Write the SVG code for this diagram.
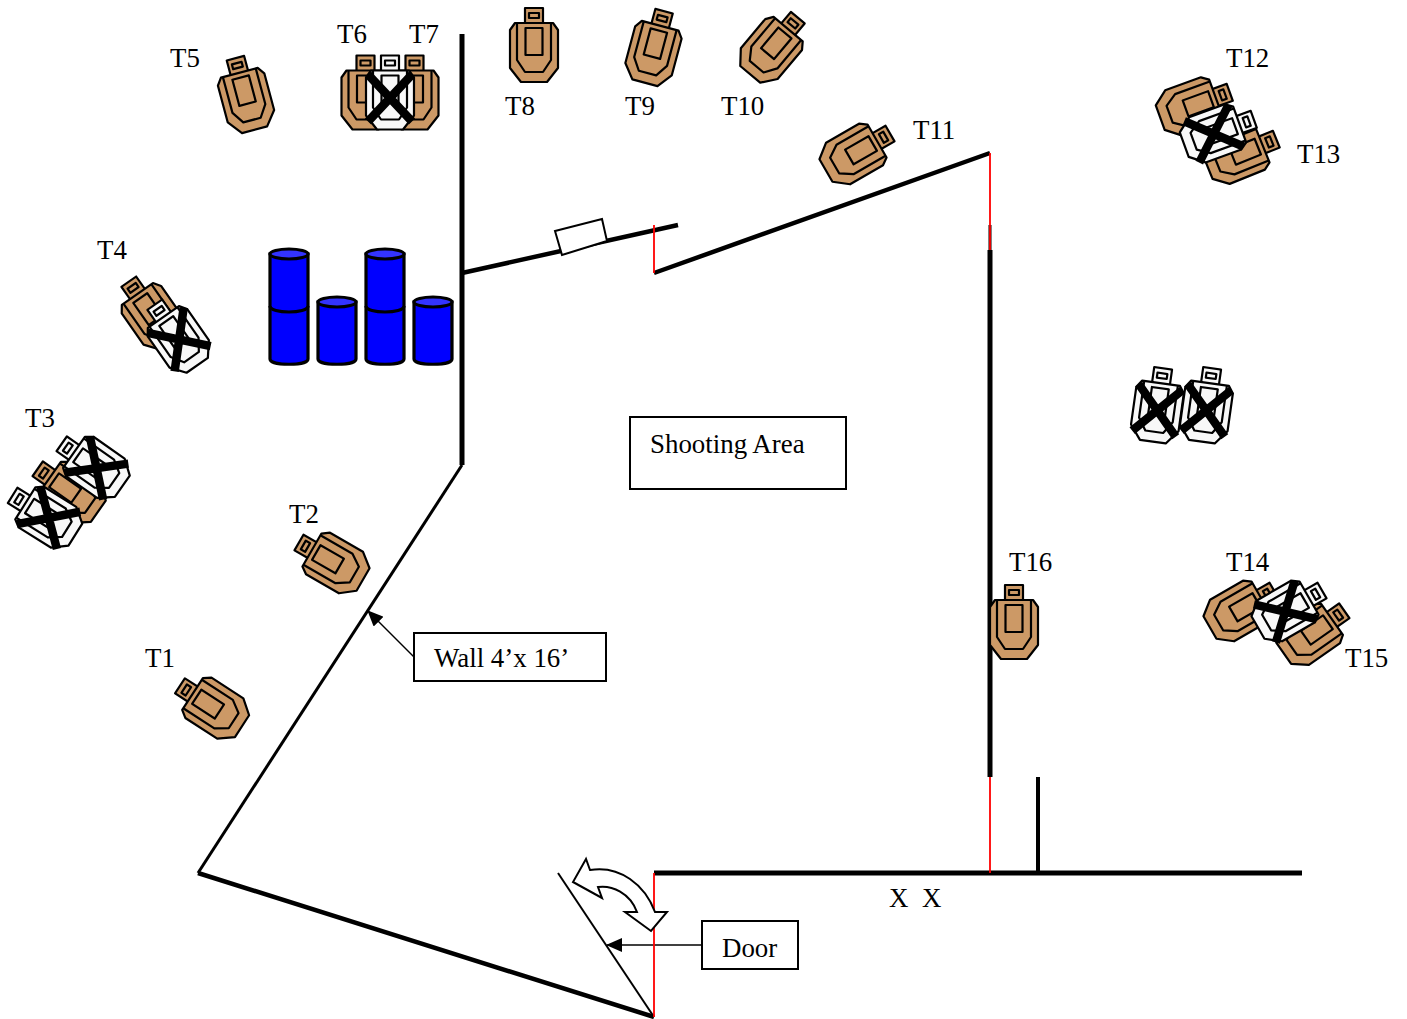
<svg xmlns="http://www.w3.org/2000/svg" width="1407" height="1019" viewBox="0 0 1407 1019">
<style>
text{font-family:"Liberation Serif","Times New Roman",serif;font-size:26.9px;fill:#000}
.tan{fill:#cc9966}
.wht{fill:#f8f8f8}
.sil{stroke:#000;stroke-width:2.2;stroke-linejoin:round}
.in{fill:none}
.x{stroke:#000;stroke-width:8.5;fill:none}
.w{stroke:#000;fill:none}
.r{stroke:#f00;stroke-width:1.8;fill:none}
.box{fill:#fff;stroke:#000;stroke-width:2}
.bar{fill:#00f;stroke:#000;stroke-width:3.2}
.top{fill:#3333ff;stroke:#000;stroke-width:3.2}
</style>
<defs>
<g id="tg" class="sil">
<rect x="-9" y="-37" width="18" height="16"/>
<rect x="-5" y="-32" width="10" height="5"/>
<polygon points="-19,-22 19,-22 24,-15 24,23 13,37 -13,37 -24,23 -24,-15"/>
<polyline class="in" points="-17,-22 -17,15 -9,27 9,27 17,15 17,-22"/>
<rect class="in" x="-8.5" y="-17" width="17" height="27"/>
</g>
<g id="tx"><use href="#tg"/><path class="x" d="M-22,-18L22,29M22,-18L-22,29"/></g>
<marker id="ah" markerWidth="16" markerHeight="14" refX="15" refY="7" orient="auto" markerUnits="userSpaceOnUse"><path d="M0,0L16,7L0,14Z" fill="#000"/></marker>
</defs>
<g id="connectors">
<path class="w" stroke-width="5" d="M462,34V465M990,250V777"/>
<path class="w" stroke-width="3" d="M990,225V250"/>
<path class="w" stroke-width="5" d="M654,873H1302"/>
<path class="w" stroke-width="4" d="M1038,777V873"/>
<path class="w" stroke-width="4.5" d="M462,273L678,225M198,873L654,1017M654,273L990,153"/>
<path class="w" stroke-width="3" d="M462,465L198,873"/>
<path class="w" stroke-width="2" d="M558,873L654,1017"/>
<path class="w" stroke-width="1.5" d="M414,657L368,611" marker-end="url(#ah)"/>
<path class="w" stroke-width="1.5" d="M702,945H607" marker-end="url(#ah)"/>
<path class="r" d="M990,153V250M990,777V873M654,873V1017M654,225V273"/>
</g>
<g id="window"><polygon class="box" points="555,231 602,219 607,241 562,255"/></g>
<g id="door-swing"><path d="M586,859L573,882L602,898L598,887C612,885 630,893 637,912L625,912L651,931L667,912L655,912C645,885 620,865 590,870Z" fill="#fff" stroke="#000" stroke-width="2"/></g>
<g id="barrels">
<path class="bar" d="M270,254V359C270,366 308,366 308,359V254Z"/><path class="bar" d="M270,306C270,314 308,314 308,306" style="fill:none"/><ellipse class="top" cx="289" cy="254" rx="19" ry="5"/>
<path class="bar" d="M318,302V359C318,366 356,366 356,359V302Z"/><ellipse class="top" cx="337" cy="302" rx="19" ry="5"/>
<path class="bar" d="M366,254V359C366,366 404,366 404,359V254Z"/><path class="bar" d="M366,306C366,314 404,314 404,306" style="fill:none"/><ellipse class="top" cx="385" cy="254" rx="19" ry="5"/>
<path class="bar" d="M414,302V359C414,366 452,366 452,359V302Z"/><ellipse class="top" cx="433" cy="302" rx="19" ry="5"/>
</g>
<g id="T1"><use href="#tg" class="tan" transform="translate(211 706) rotate(-57)"/><text x="145" y="667.2">T1</text></g>
<g id="T2"><use href="#tg" class="tan" transform="translate(331 561) rotate(-60)"/><text x="289" y="523.2">T2</text></g>
<g id="T3"><use href="#tg" class="tan" transform="translate(68 490) rotate(-55)"/><use href="#tx" class="wht" transform="translate(92 465) rotate(-55)"/><use href="#tx" class="wht" transform="translate(44 515) rotate(-58)"/><text x="25" y="427.2">T3</text></g>
<g id="T4"><use href="#tg" class="tan" transform="translate(150 312) rotate(-35)"/><use href="#tx" class="wht" transform="translate(176 335) rotate(-35)"/><text x="97" y="259.2">T4</text></g>
<g id="T5"><use href="#tg" class="tan" transform="translate(245 94) rotate(-15)"/><text x="170" y="67.2">T5</text></g>
<g id="T6"><use href="#tg" class="tan" transform="translate(365.5 92.5)"/><use href="#tg" class="tan" transform="translate(414.5 92.5)"/><use href="#tx" class="wht" transform="translate(390 92.5)"/><text x="337" y="43.2">T6</text><text x="409" y="43.2">T7</text></g>
<g id="T8"><use href="#tg" class="tan" transform="translate(534 45)"/><text x="505" y="115.2">T8</text></g>
<g id="T9"><use href="#tg" class="tan" transform="translate(654.5 47) rotate(15)"/><text x="625" y="115.2">T9</text></g>
<g id="T10"><use href="#tg" class="tan" transform="translate(774 46) rotate(40)"/><text x="721" y="115.2">T10</text></g>
<g id="T11"><use href="#tg" class="tan" transform="translate(858 152) rotate(60)"/><text x="913" y="139.2">T11</text></g>
<g id="T12"><use href="#tg" class="tan" transform="translate(1195 105) rotate(70)"/><use href="#tg" class="tan" transform="translate(1242 153) rotate(68)"/><use href="#tx" class="wht" transform="translate(1219 132) rotate(70)"/><text x="1226" y="67.2">T12</text><text x="1297" y="163.2">T13</text></g>
<g id="T14"><use href="#tg" class="tan" transform="translate(1242 609) rotate(60)"/><use href="#tg" class="tan" transform="translate(1314 632) rotate(55)"/><use href="#tx" class="wht" transform="translate(1290 609) rotate(60)"/><text x="1226" y="571.2">T14</text><text x="1345" y="667.2">T15</text></g>
<g id="T16"><use href="#tg" class="tan" transform="translate(1014 622)"/><text x="1009" y="571.2">T16</text></g>
<g id="spare"><use href="#tx" class="wht" transform="translate(1158 405) rotate(8)"/><use href="#tx" class="wht" transform="translate(1207 405) rotate(8)"/></g>
<g id="shooting-area"><rect class="box" x="630" y="417" width="216" height="72"/><text x="650" y="453.2">Shooting Area</text></g>
<g id="wall-label"><rect class="box" x="414" y="633" width="192" height="48"/><text x="434" y="667.2">Wall 4’x 16’</text></g>
<g id="door-label"><rect class="box" x="702" y="921" width="96" height="48"/><text x="722" y="957.2">Door</text></g>
<g id="xx"><text x="889" y="907.2">X</text><text x="922" y="907.2">X</text></g>
</svg>
